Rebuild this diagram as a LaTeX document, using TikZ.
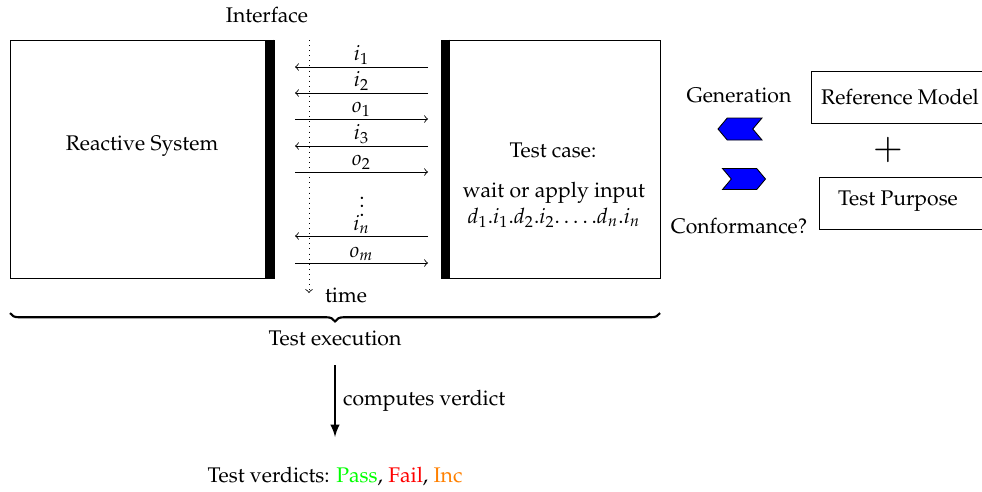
\documentclass[tikz,border=0pt]{standalone}
\usepackage[T1]{fontenc}
\usepackage{mathpazo}
\usepackage{tikz}
\usetikzlibrary{decorations.pathreplacing,shapes.symbols}
\newdimen\px \px=0.472pt
\tikzstyle{msg} = [->]
\tikzstyle{box} = [draw,inner sep=0pt]
\tikzstyle{ifbar} = [line width=9\px]
\tikzstyle{lab} = [midway,above,inner sep=1pt]
\tikzstyle{chev} = [draw,fill=blue,signal,inner sep=0pt,signal pointer angle=100]
\tikzstyle{verdict} = [->,>=latex,line width=1pt]

\begin{document}
\begin{tikzpicture}[x=\px,y=-\px]
          \useasboundingbox (0,0) rectangle (982,491);
          \node at (267,15) (iface) {Interface};
          \node[box, minimum width=264\px, minimum height=238\px] at (142,159) (sys) {};
          \node at (142,146) (systxt) {Reactive System};
          \draw[ifbar] ([xshift=-4.5\px]sys.north east) -- ([xshift=-4.5\px]sys.south east);
          \node[box, minimum width=219\px, minimum height=238\px] at (550.5,159) (tc) {};
          \draw[ifbar] ([xshift=4.5\px]tc.north west) -- ([xshift=4.5\px]tc.south west);
          \node at (553,150) (tctxt) {Test case:};
          \node at (554,193) (wait) {wait or apply input};
          \node at (554,218) (seq) {$d_1.i_1.d_2.i_2.\ldots.d_n.i_n$};

          \coordinate (t0) at (309,40);
          \coordinate (t1) at (309,293);
          \draw[dotted,->] (t0) -- (t1);
          \node at (346,295) (time) {time};

          \coordinate (a1) at (295,67);  \coordinate (b1) at (428,67);
          \coordinate (a2) at (295,93);  \coordinate (b2) at (428,93);
          \coordinate (a3) at (295,119); \coordinate (b3) at (428,119);
          \coordinate (a4) at (295,146); \coordinate (b4) at (428,146);
          \coordinate (a5) at (295,172); \coordinate (b5) at (428,172);
          \coordinate (a6) at (295,236); \coordinate (b6) at (428,236);
          \coordinate (a7) at (295,263); \coordinate (b7) at (428,263);

          \draw[msg] (b1) -- (a1) node[lab]{$i_1$};
          \draw[msg] (b2) -- (a2) node[lab]{$i_2$};
          \draw[msg] (a3) -- (b3) node[lab]{$o_1$};
          \draw[msg] (b4) -- (a4) node[lab]{$i_3$};
          \draw[msg] (a5) -- (b5) node[lab]{$o_2$};
          \node[inner sep=0pt] at (362,200) (dots) {$\vdots$};
          \draw[msg] (b6) -- (a6) node[lab]{$i_n$};
          \draw[msg] (a7) -- (b7) node[lab]{$o_m$};

          \coordinate (br0) at (10,313);
          \coordinate (br1) at (660,313);
          \draw[decorate, decoration={brace,mirror,amplitude=4pt}, line width=1pt] (br0) -- (br1);
          \node at (335,338) (exec) {Test execution};

          \coordinate (cv0) at (335,365);
          \coordinate (cv1) at (335,437);
          \draw[verdict] (cv0) -- (cv1) node[midway,right]{computes verdict};
          \node at (335,477) (verd) {Test verdicts: \textcolor{green}{Pass}, \textcolor{red}{Fail}, \textcolor{orange}{Inc}};

          \node at (739,95) (gen) {Generation};
          \node[chev, signal to=west, signal from=east, minimum width=44\px, minimum height=22\px] at (740,129) (back) {};
          \node[chev, signal to=east, signal from=west, minimum width=43\px, minimum height=21\px] at (744,179) (fwd) {};
          \node at (739,226) (conf) {Conformance?};
          \node[box, minimum width=178\px, minimum height=52\px] at (900,97) (ref) {Reference Model};
          \node at (888,150) (plus) {\LARGE $+$};
          \node[box, anchor=west, minimum width=180\px, minimum height=52\px] at (819,203) (tp) {};
          \node at (898,201) (tptxt) {Test Purpose};
        \end{tikzpicture}
\end{document}
